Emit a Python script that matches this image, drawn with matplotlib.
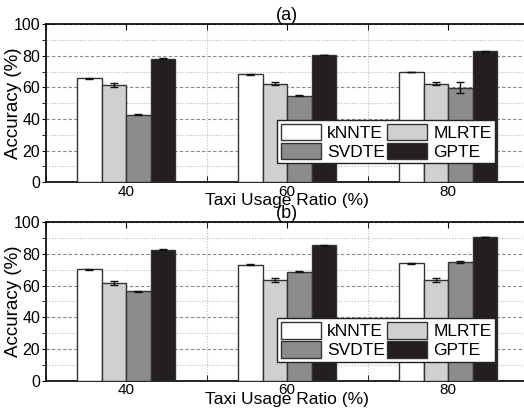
import numpy as np
import matplotlib.pyplot as plt
from matplotlib.ticker import MultipleLocator

plt.rcParams['font.family'] = ['Liberation Sans', 'DejaVu Sans']

ratios = [40, 60, 80]
methods = ['kNNTE', 'MLRTE', 'SVDTE', 'GPTE']
colors = ['#ffffff', '#d0d0d0', '#8c8c8c', '#231f20']

# panel (a)
acc_a = {
    'kNNTE': [65.8, 68.2, 69.7],
    'MLRTE': [61.5, 62.4, 62.4],
    'SVDTE': [42.6, 54.6, 59.6],
    'GPTE': [78.1, 80.4, 82.7],
}
err_a = {
    'kNNTE': [0.3, 0.3, 0.3],
    'MLRTE': [1.0, 1.1, 1.1],
    'SVDTE': [0.3, 0.3, 3.5],
    'GPTE': [0.2, 0.2, 0.2],
}

# panel (b)
acc_b = {
    'kNNTE': [70.5, 73.3, 74.2],
    'MLRTE': [61.8, 63.6, 63.8],
    'SVDTE': [56.5, 68.8, 75.0],
    'GPTE': [82.8, 85.6, 90.7],
}
err_b = {
    'kNNTE': [0.3, 0.3, 0.3],
    'MLRTE': [1.1, 1.1, 1.2],
    'SVDTE': [0.3, 0.4, 0.4],
    'GPTE': [0.2, 0.2, 0.2],
}

fig = plt.figure(figsize=(5.24, 4.15), dpi=100)
ax_a = fig.add_axes([0.087, 0.561, 0.922, 0.381])
ax_b = fig.add_axes([0.087, 0.083, 0.922, 0.381])

width = 3.05
offsets = np.array([-1.5, -0.5, 0.5, 1.5]) * width

for ax, acc, err, title in [(ax_a, acc_a, err_a, '(a)'), (ax_b, acc_b, err_b, '(b)')]:
    x = np.array(ratios, dtype=float)
    bars = {}
    for i, m in enumerate(methods):
        bars[m] = ax.bar(x + offsets[i], acc[m], width, color=colors[i], edgecolor='#333333',
                         linewidth=1.0, label=m, zorder=3)
        ax.errorbar(x + offsets[i], acc[m], yerr=err[m], fmt='none', ecolor='#111111',
                    elinewidth=1.0, capsize=3, capthick=1.0, zorder=4)

    ax.set_xlim(30, 90)
    ax.set_ylim(0, 100)
    ax.set_xticks(ratios)
    ax.xaxis.set_minor_locator(MultipleLocator(10))
    ax.yaxis.set_major_locator(MultipleLocator(20))
    ax.yaxis.set_minor_locator(MultipleLocator(10))

    ax.grid(which='major', axis='y', linestyle=(0, (3, 2)), color='#888888', linewidth=0.8, zorder=0)
    ax.grid(which='minor', axis='y', linestyle=(0, (1, 1.5)), color='#bbbbbb', linewidth=0.8, zorder=0)
    ax.grid(which='minor', axis='x', linestyle=(0, (1, 1.5)), color='#bbbbbb', linewidth=0.8, zorder=0)
    ax.set_axisbelow(True)

    ax.tick_params(axis='x', which='both', direction='in', top=True, length=4, labelsize=11, pad=2)
    ax.tick_params(axis='y', which='both', direction='out', length=3, labelsize=11.5, pad=1)
    for s in ax.spines.values():
        s.set_linewidth(1.2)

    ax.set_xlabel('Taxi Usage Ratio (%)', fontsize=12.5, labelpad=-4)
    ax.set_ylabel('Accuracy (%)', fontsize=13.5, va='center')
    ax.yaxis.set_label_coords(-0.066, 0.5)
    ax.set_title(title, fontsize=13, pad=0)

    # legend filled row by row: kNNTE MLRTE / SVDTE GPTE
    order = ['kNNTE', 'SVDTE', 'MLRTE', 'GPTE']
    leg = ax.legend([bars[m] for m in order], order, ncol=2, loc='lower left',
                    bbox_to_anchor=(0.48, 0.12, 0.45, 0.27),
                    mode='expand', fontsize=12.5, handlelength=2.3, handleheight=1.1,
                    handletextpad=0.35, columnspacing=0.45, labelspacing=0.1,
                    borderpad=0.2, borderaxespad=0, fancybox=False, framealpha=1)
    leg.get_frame().set_edgecolor('#222222')
    leg.get_frame().set_linewidth(1.0)
    leg.set_zorder(5)

fig.savefig('out.png', dpi=100)
